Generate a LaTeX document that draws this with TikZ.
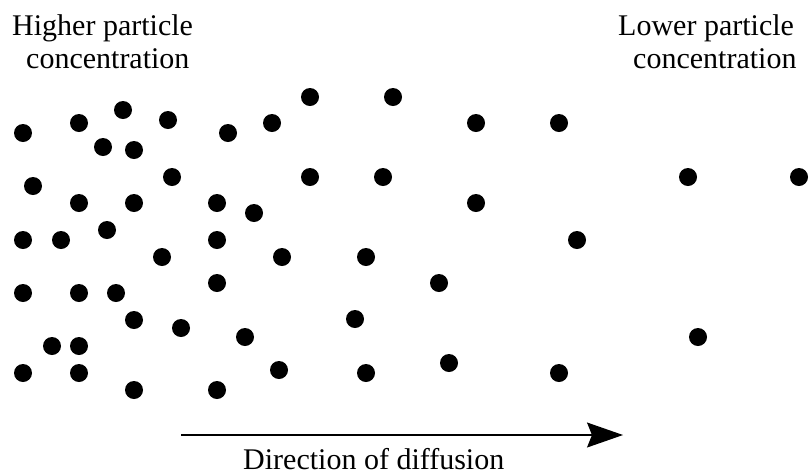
\documentclass[tikz,border=0pt]{standalone}
\usepackage{fontspec}
\setmainfont{Liberation Serif}
\newfontfamily\lblfont{Liberation Serif}
\usetikzlibrary{arrows.meta}
\begin{document}
\begin{tikzpicture}[x=1pt,y=-1pt,
  dot/.style={circle,fill=black,draw=none,minimum size=18pt,inner sep=0pt},
  lbl/.style={font=\lblfont\fontsize{30}{33}\selectfont,inner sep=0pt,anchor=base west}]
\useasboundingbox (0,0) rectangle (810,475);
% labels
\node[lbl] (h1) at (12,35) {Higher particle};
\node[lbl] (h2) at (26,68) {concentration};
\node[lbl] (l1) at (618,35) {Lower particle};
\node[lbl] (l2) at (633,68) {concentration};
\node[lbl] (dd) at (243,469) {Direction of diffusion};
% dots
\foreach \x/\y [count=\i] in {
 23/133, 79/123, 123/110, 168/120, 103/147, 134/150, 228/133, 272/123,
 310/97, 393/97, 476/123, 559/123,
 33/186, 172/177, 310/177, 383/177, 688/177, 799/177,
 79/203, 134/203, 217/203, 254/213, 476/203,
 23/240, 61/240, 107/230, 217/240, 577/240,
 162/257, 282/257, 366/257,
 23/293, 79/293, 116/293, 217/283, 439/283,
 134/320, 181/328, 355/319, 245/337, 698/337,
 52/346, 79/346,
 23/373, 79/373, 134/390, 217/390, 279/370, 366/373, 449/363, 559/373}
 \node[dot] (p\i) at (\x,\y) {};
% arrow
\coordinate (as) at (181,435);
\coordinate (ae) at (623,435);
\draw[line width=1.2pt,-{Stealth[length=36pt,width=25pt,inset=5pt]}] (as) -- (ae);
\end{tikzpicture}
\end{document}
